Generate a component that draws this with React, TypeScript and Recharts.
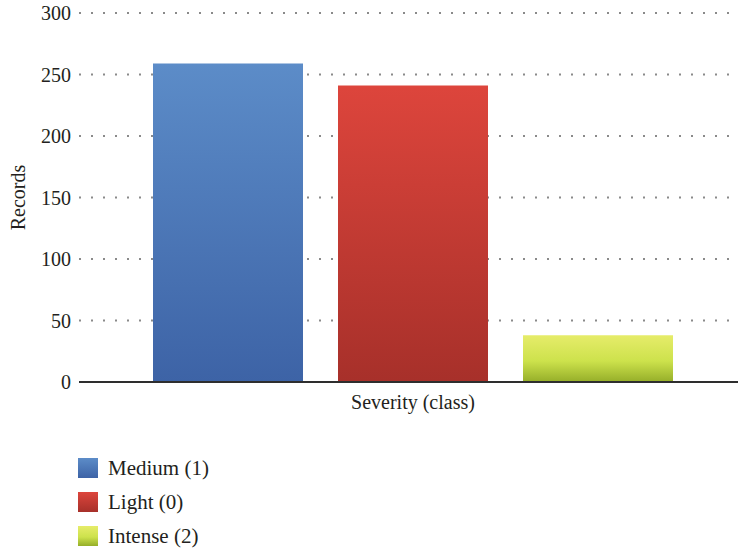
import { BarChart, Bar, XAxis, YAxis, CartesianGrid, Label } from 'recharts'

// Record counts per severity class
const CATEGORIES = ['Severity (class)']
const MEDIUM = [259]
const LIGHT = [241]
const INTENSE = [38]
const Y_TICKS = [0, 50, 100, 150, 200, 250, 300]

const SERIES = [
  { key: 'medium', label: 'Medium (1)', values: MEDIUM, top: '#5c8cc8', bottom: '#3d63a6' },
  { key: 'light', label: 'Light (0)', values: LIGHT, top: '#dd453c', bottom: '#a7302a' },
  { key: 'intense', label: 'Intense (2)', values: INTENSE, top: '#e6ec6a', mid: '#cde24c', bottom: '#95ae29' },
]

const FONT = '"Liberation Serif", "Times New Roman", serif'
const TEXT = '#231f20'

const data = CATEGORIES.map((name, i) => {
  const row: Record<string, string | number> = { name }
  SERIES.forEach((s) => {
    row[s.key] = s.values[i]
  })
  return row
})

export default function App() {
  return (
    <div style={{ position: 'absolute', left: 0, top: 0, width: 738, height: 552, background: '#fff', fontFamily: FONT }}>
      <style>{`.recharts-text { font-family: ${FONT}; }`}</style>
      <BarChart
        width={738}
        height={552}
        data={data}
        margin={{ top: 13, right: 0, bottom: 140, left: 0 }}
        barSize={150}
        barGap={35}
      >
        <defs>
          {SERIES.map((s) => (
            <linearGradient key={s.key} id={`grad-${s.key}`} x1="0" y1="0" x2="0" y2="1">
              <stop offset="0%" stopColor={s.top} />
              {s.mid && <stop offset="55%" stopColor={s.mid} />}
              <stop offset="100%" stopColor={s.bottom} />
            </linearGradient>
          ))}
        </defs>
        <CartesianGrid
          vertical={false}
          stroke="#8a8a8a"
          strokeWidth={2}
          strokeDasharray="2 10"
        />
        <XAxis
          dataKey="name"
          axisLine={{ stroke: '#2e2e2e', strokeWidth: 2 }}
          tickLine={false}
          tickMargin={7}
          padding={{ left: 9, right: 0 }}
          tick={{ fill: TEXT, fontSize: 20 }}
        />
        <YAxis
          width={79}
          domain={[0, 300]}
          ticks={Y_TICKS}
          axisLine={false}
          tickLine={false}
          tick={{ fill: TEXT, fontSize: 20 }}
        >
          <Label
            value="Records"
            angle={-90}
            position="insideLeft"
            offset={18}
            style={{ textAnchor: 'middle', fill: TEXT, fontSize: 20 }}
          />
        </YAxis>
        {SERIES.map((s) => (
          <Bar
            key={s.key}
            dataKey={s.key}
            name={s.label}
            fill={`url(#grad-${s.key})`}
            isAnimationActive={false}
          />
        ))}
      </BarChart>

      {/* legend */}
      <div style={{ position: 'absolute', left: 78, top: 458 }}>
        {SERIES.map((s) => (
          <div key={s.key} style={{ display: 'flex', alignItems: 'center', height: 20, marginBottom: 14 }}>
            <div
              style={{
                width: 20,
                height: 20,
                background: s.mid
                  ? `linear-gradient(${s.top}, ${s.mid} 55%, ${s.bottom})`
                  : `linear-gradient(${s.top}, ${s.bottom})`,
              }}
            />
            <span style={{ marginLeft: 10, fontSize: 21, color: TEXT, lineHeight: '20px' }}>{s.label}</span>
          </div>
        ))}
      </div>
    </div>
  )
}
